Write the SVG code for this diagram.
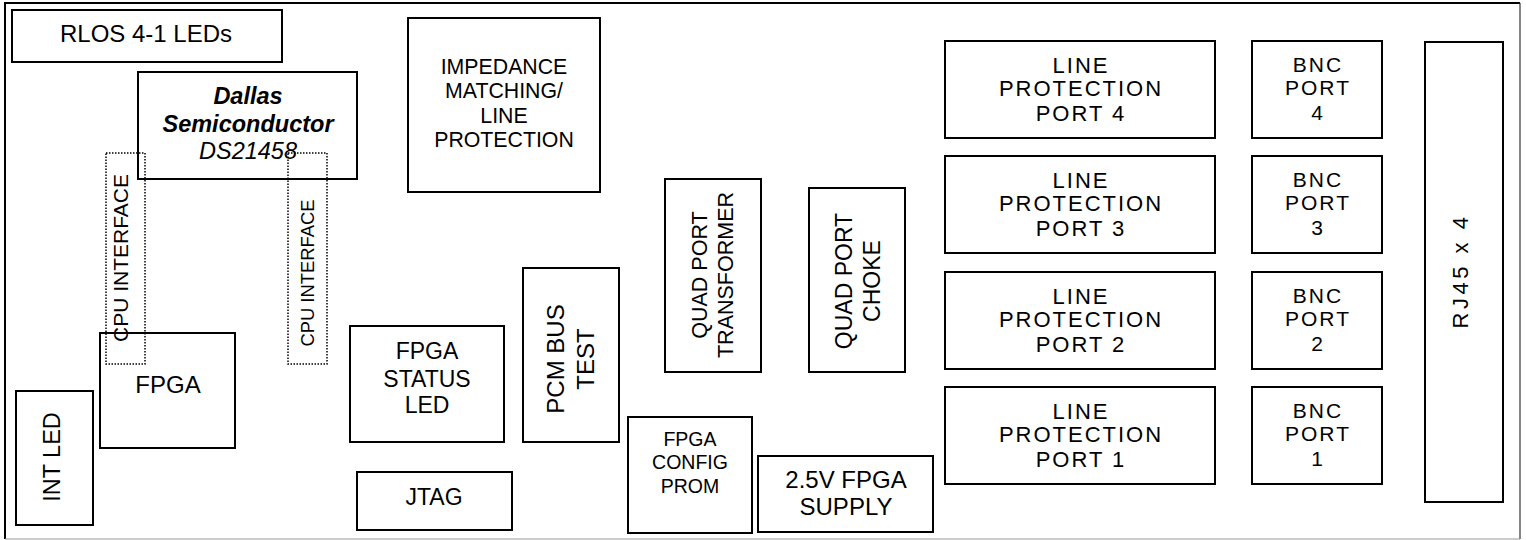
<svg xmlns="http://www.w3.org/2000/svg" width="1526" height="540" viewBox="0 0 1526 540">
<style>
.box{fill:none;stroke:#000;stroke-width:2}
.dot{fill:none;stroke:#000;stroke-width:1.5;stroke-dasharray:1.5 1.5}
text{font-family:"Liberation Sans",Arial,sans-serif;fill:#000;text-anchor:middle}
.lp{font-size:22px;letter-spacing:2px}
.bnc{font-size:21px;letter-spacing:2px}
</style>
<rect width="1526" height="540" fill="#fff"/>
<g id="board">
<path d="M5,539 V3 H1520" fill="none" stroke="#000" stroke-width="2"/>
<path d="M1520,3 V539" fill="none" stroke="#333" stroke-width="1.2"/>
<path d="M5,539 H1520" fill="none" stroke="#999" stroke-width="1.2"/>
</g>
<g id="connectors"/>
<g id="rlos"><rect class="box" x="12" y="10" width="270" height="52"/><text x="146" y="42" font-size="24">RLOS 4-1 LEDs</text></g>
<g id="dallas"><rect class="box" x="138" y="72" width="219" height="107"/>
<text x="248" y="104" font-size="23.5" font-weight="bold" font-style="italic">Dallas</text>
<text x="248" y="132" font-size="23.5" font-weight="bold" font-style="italic">Semiconductor</text>
<text x="248" y="159" font-size="23.5" font-style="italic">DS21458</text></g>
<g id="impedance"><rect class="box" x="408" y="18" width="192" height="174"/>
<text x="504" y="74" font-size="21.3">IMPEDANCE</text>
<text x="504" y="98" font-size="21.3">MATCHING/</text>
<text x="504" y="123" font-size="21.3">LINE</text>
<text x="504" y="147" font-size="21.3">PROTECTION</text></g>
<g id="fpga"><rect class="box" x="100" y="333" width="135" height="115"/><text x="168" y="393" font-size="24">FPGA</text></g>
<g id="intled"><rect class="box" x="16" y="391" width="77" height="134"/><text transform="translate(60,457) rotate(-90)" font-size="23.5">INT LED</text></g>
<g id="cpu1"><rect class="dot" x="106" y="153" width="39" height="211"/><text transform="translate(128,258) rotate(-90)" font-size="21">CPU INTERFACE</text></g>
<g id="cpu2"><rect class="dot" x="288" y="153" width="39" height="211"/><text transform="translate(314,273) rotate(-90)" font-size="18.4">CPU INTERFACE</text></g>
<g id="fpgastatus"><rect class="box" x="350" y="326" width="154" height="116"/>
<text x="427" y="359" font-size="23">FPGA</text><text x="427" y="387" font-size="23">STATUS</text><text x="427" y="413" font-size="23">LED</text></g>
<g id="jtag"><rect class="box" x="357" y="472" width="155" height="58"/><text x="434" y="505" font-size="23">JTAG</text></g>
<g id="pcm"><rect class="box" x="523" y="268" width="96" height="174"/>
<text transform="translate(564,359) rotate(-90)" font-size="24"><tspan x="0" y="0">PCM BUS</tspan><tspan x="0" y="30">TEST</tspan></text></g>
<g id="transformer"><rect class="box" x="665" y="179" width="96" height="193"/>
<text transform="translate(707,275) rotate(-90)" font-size="21.5"><tspan x="0" y="0">QUAD PORT</tspan><tspan x="0" y="26">TRANSFORMER</tspan></text></g>
<g id="choke"><rect class="box" x="809" y="188" width="96" height="184"/>
<text transform="translate(852,281) rotate(-90)" font-size="23"><tspan x="0" y="0">QUAD PORT</tspan><tspan x="0" y="28">CHOKE</tspan></text></g>
<g id="prom"><rect class="box" x="628" y="417" width="124" height="116"/>
<text x="690" y="446" font-size="19.5">FPGA</text><text x="690" y="469" font-size="19.5">CONFIG</text><text x="690" y="493" font-size="19.5">PROM</text></g>
<g id="supply"><rect class="box" x="758" y="456" width="175" height="76"/>
<text x="846" y="488" font-size="24">2.5V FPGA</text><text x="846" y="515" font-size="24">SUPPLY</text></g>
<g id="lp4"><rect class="box" x="945" y="41" width="270" height="97"/>
<text class="lp" x="1081" y="73">LINE</text><text class="lp" x="1081" y="96">PROTECTION</text><text class="lp" x="1081" y="121">PORT 4</text></g>
<g id="lp3"><rect class="box" x="945" y="156" width="270" height="97"/>
<text class="lp" x="1081" y="188">LINE</text><text class="lp" x="1081" y="211">PROTECTION</text><text class="lp" x="1081" y="236">PORT 3</text></g>
<g id="lp2"><rect class="box" x="945" y="272" width="270" height="97"/>
<text class="lp" x="1081" y="304">LINE</text><text class="lp" x="1081" y="327">PROTECTION</text><text class="lp" x="1081" y="352">PORT 2</text></g>
<g id="lp1"><rect class="box" x="945" y="387" width="270" height="97"/>
<text class="lp" x="1081" y="419">LINE</text><text class="lp" x="1081" y="442">PROTECTION</text><text class="lp" x="1081" y="467">PORT 1</text></g>
<g id="bnc4"><rect class="box" x="1252" y="41" width="130" height="97"/>
<text class="bnc" x="1318" y="72">BNC</text><text class="bnc" x="1318" y="95">PORT</text><text class="bnc" x="1318" y="120">4</text></g>
<g id="bnc3"><rect class="box" x="1252" y="156" width="130" height="97"/>
<text class="bnc" x="1318" y="187">BNC</text><text class="bnc" x="1318" y="210">PORT</text><text class="bnc" x="1318" y="235">3</text></g>
<g id="bnc2"><rect class="box" x="1252" y="272" width="130" height="97"/>
<text class="bnc" x="1318" y="303">BNC</text><text class="bnc" x="1318" y="326">PORT</text><text class="bnc" x="1318" y="351">2</text></g>
<g id="bnc1"><rect class="box" x="1252" y="387" width="130" height="97"/>
<text class="bnc" x="1318" y="418">BNC</text><text class="bnc" x="1318" y="441">PORT</text><text class="bnc" x="1318" y="466">1</text></g>
<g id="rj45"><rect class="box" x="1425" y="42" width="78" height="460"/>
<text transform="translate(1468,271) rotate(-90)" font-size="22" letter-spacing="3.5">RJ45 x 4</text></g>
</svg>
